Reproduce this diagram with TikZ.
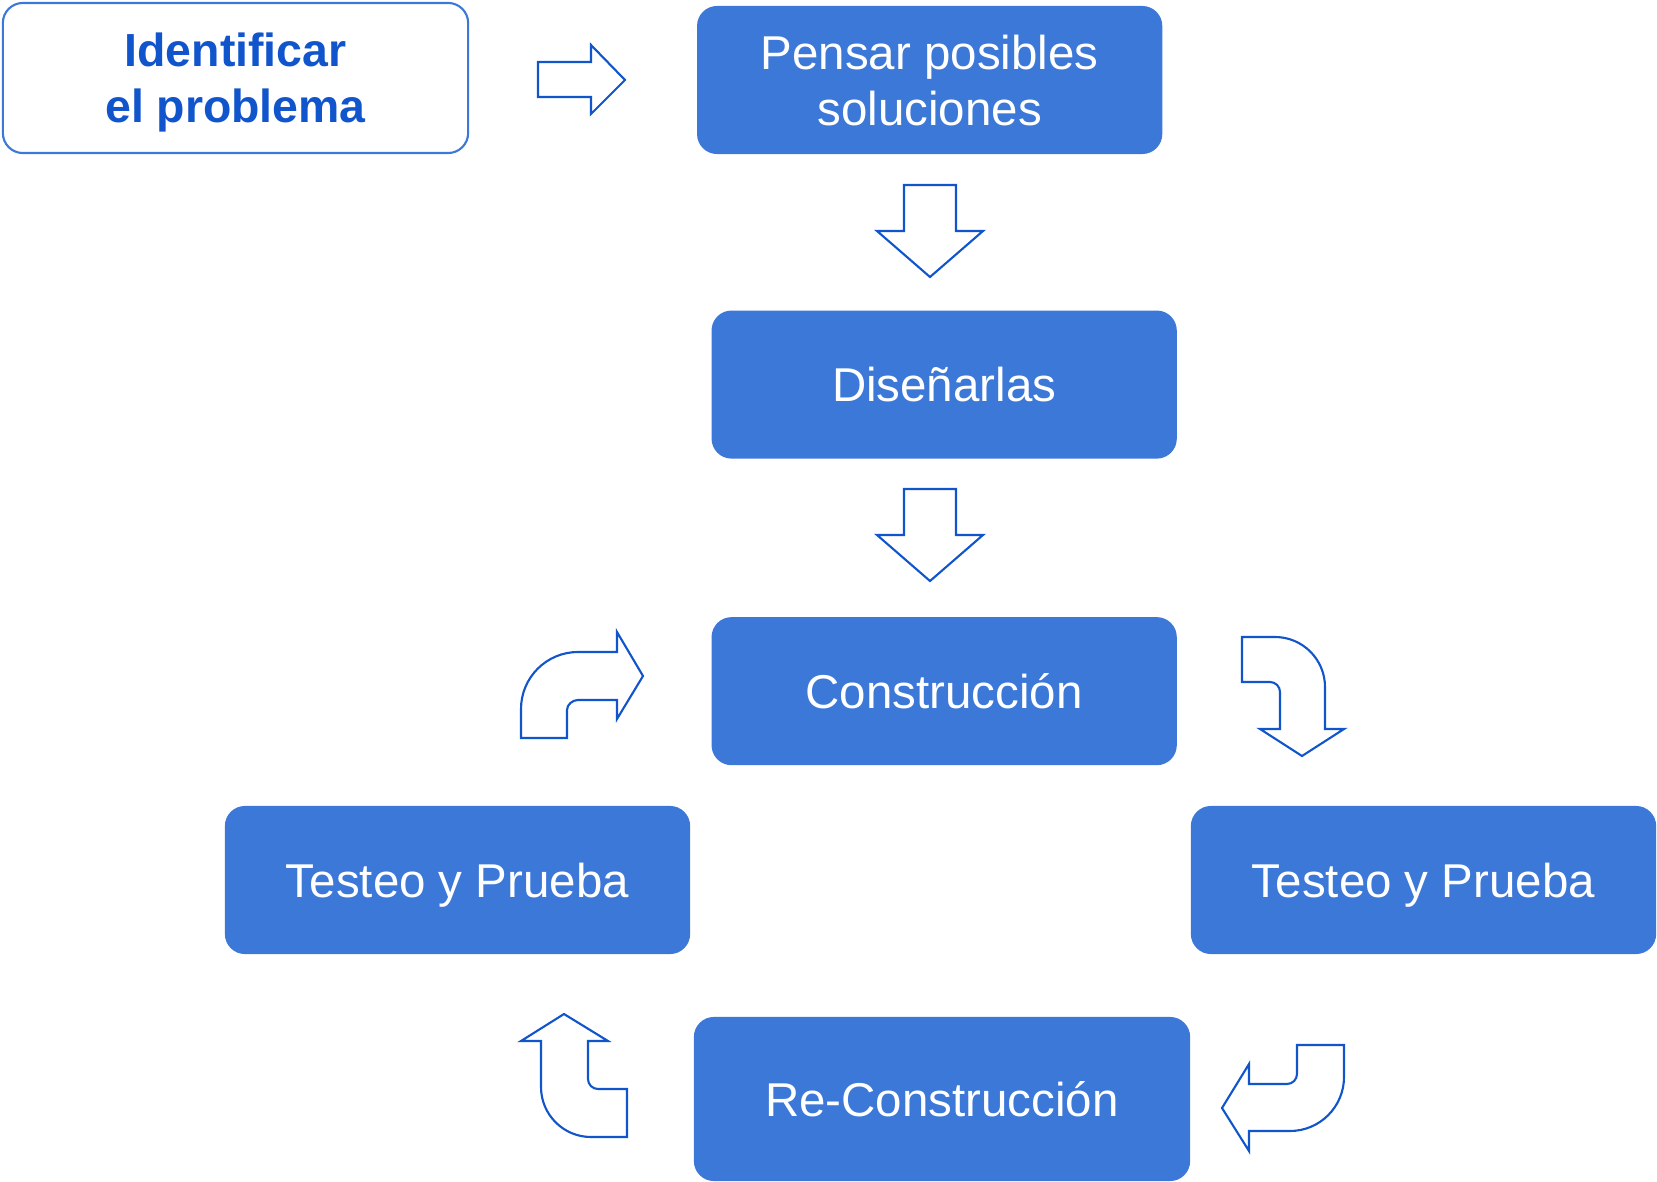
\documentclass[tikz,border=0pt]{standalone}
\usepackage{fontspec}
\setmainfont{Liberation Sans}
\usepackage{tikz}
\usetikzlibrary{positioning}

\definecolor{cajaazul}{HTML}{3C78D8}
\definecolor{lineaazul}{HTML}{1155CC}

\tikzset{
  caja/.style={rectangle, rounded corners=0.2cm, fill=cajaazul, text=white,
    minimum width=4.65cm, minimum height=1.48cm, inner sep=0pt, align=center,
    text depth=0pt, font=\fontsize{13.5}{16}\selectfont},
  unalinea/.style={text height=9.7pt},
  inicio/.style={caja, fill=white, draw=cajaazul, line width=0.6pt, text=lineaazul,
    minimum height=1.5cm, font=\fontsize{13.2}{16}\selectfont\bfseries},
  flecha/.style={draw=lineaazul, line width=0.6pt, fill=white, line join=miter}
}

\begin{document}
\begin{tikzpicture}[x=0.01cm, y=-0.01cm]
	\useasboundingbox (0,0) rectangle (1657,1182);
	
	\node (ident)  [inicio] at (235.5,78) {Identificar\\el problema};
	\node (pensar) [caja, right=2.27cm of ident, yshift=-0.02cm] {Pensar posibles\\soluciones};
	\node (disen)  [caja, unalinea, below=1.55cm of pensar, xshift=0.145cm] {Diseñarlas};
	\node (constr) [caja, unalinea, below=1.57cm of disen] {Construcción};
	\node (test1)  [caja, unalinea] at (457.5,880)  {Testeo y Prueba};
	\node (test2)  [caja, unalinea] at (1423.5,880) {Testeo y Prueba};
	\node (recon)  [caja, unalinea, minimum width=4.96cm, minimum height=1.64cm] at (942,1099) {Re-Construcción};
	
	% flechas rectas
	\draw [flecha] (538,62) -- (591,62) -- (591,45) -- (625,80) -- (591,114) -- (591,97) -- (538,97) -- cycle;
	\draw [flecha] (904,185) -- (956,185) -- (956,231) -- (983,231) -- (930,277) -- (877,231) -- (904,231) -- cycle;
	\draw [flecha] (904,489) -- (956,489) -- (956,535) -- (983,535) -- (930,581) -- (877,535) -- (904,535) -- cycle;
	
	% flechas curvas
	\draw [flecha] (521,738) -- (521,709) .. controls (521,677.5) and (546.5,652) .. (578,652) -- (617,652)
		-- (617,632) -- (643,676) -- (617,719) -- (617,700) -- (578,700)
		.. controls (572.5,700) and (567,704.5) .. (567,710) -- (567,738) -- cycle;
	\draw [flecha] (1242,637) -- (1275,637) .. controls (1302.6,637) and (1325,659.4) .. (1325,687) -- (1325,729)
		-- (1344,729) -- (1302,756) -- (1260,729) -- (1280,729) -- (1280,692)
		.. controls (1280,686.5) and (1275.5,682) .. (1270,682) -- (1242,682) -- cycle;
	\draw [flecha] (564,1014) -- (608,1041) -- (588,1041) -- (588,1079)
		.. controls (588,1084.5) and (592.5,1089) .. (598,1089) -- (627,1089) -- (627,1137) -- (591,1137)
		.. controls (563.4,1137) and (541,1114.6) .. (541,1087) -- (541,1041) -- (521,1041) -- cycle;
	\draw [flecha] (1222,1108) -- (1249,1064) -- (1249,1084) -- (1287,1084)
		.. controls (1292.5,1084) and (1297,1079.5) .. (1297,1074) -- (1297,1045) -- (1344,1045) -- (1344,1077)
		.. controls (1344,1106.8) and (1319.8,1131) .. (1290,1131) -- (1249,1131) -- (1249,1151) -- cycle;
\end{tikzpicture}
\end{document}
